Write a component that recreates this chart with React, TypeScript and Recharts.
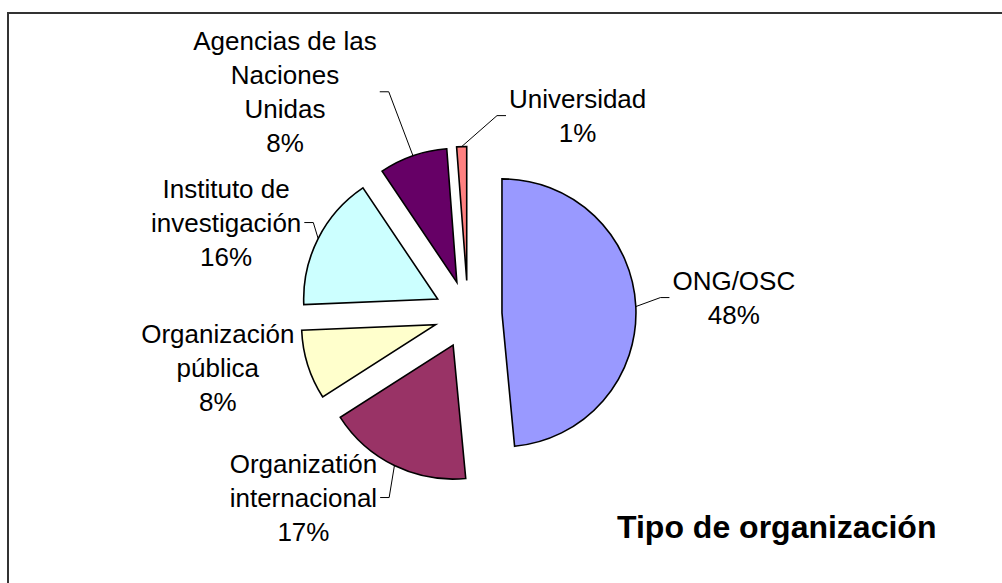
import { PieChart, Pie, Cell, Sector } from 'recharts'

const names = ['ONG/OSC', 'Organizatión internacional', 'Organización pública', 'Instituto de investigación', 'Agencias de las Naciones Unidas', 'Universidad']
const values = [48.4, 17.4, 8.4, 16.2, 8.2, 1.2]
const labelLines = [
  ['ONG/OSC'],
  ['Organizatión', 'internacional'],
  ['Organización', 'pública'],
  ['Instituto de', 'investigación'],
  ['Agencias de las', 'Naciones', 'Unidas'],
  ['Universidad'],
]
const colors = ['#9999FF', '#993366', '#FFFFCC', '#CCFFFF', '#660066', '#FF8080']

const data = names.map((name, i) => ({ name, value: values[i] }))

// label text offset (center x, first baseline) from the slice's arc midpoint
const labelShift = [[98, -17], [-91, 7], [-90, -22], [-92, -41], [-128, -106], [116, -39]]

const RAD = Math.PI / 180
const EXPLODE = 34
const FONT = '"Liberation Sans", Arial, sans-serif'
const FS = 26
const LH = 34

let ctx: CanvasRenderingContext2D | null = null
const measure = (s: string) => {
  if (!ctx) ctx = document.createElement('canvas').getContext('2d')
  if (!ctx) return s.length * FS * 0.5
  ctx.font = `${FS}px "Liberation Sans"`
  return ctx.measureText(s).width
}

const renderSlice = (p: any) => {
  const a = -p.midAngle * RAD
  return <Sector {...p} cx={p.cx + EXPLODE * Math.cos(a)} cy={p.cy + EXPLODE * Math.sin(a)} />
}

const renderLabel = (p: any) => {
  const { cx, cy, midAngle, outerRadius, index, percent } = p
  const a = -midAngle * RAD
  const ex = cx + EXPLODE * Math.cos(a)
  const ey = cy + EXPLODE * Math.sin(a)
  const mx = ex + outerRadius * Math.cos(a)
  const my = ey + outerRadius * Math.sin(a)
  const lines = [...labelLines[index], `${Math.round(percent * 100)}%`]
  const [dx, dy] = labelShift[index]
  const tx = mx + dx
  const ty = my + dy
  const w = Math.max(...lines.map(measure))
  const midY = ty + ((lines.length - 1) * LH) / 2 - 9
  const left = tx < mx
  const edge = left ? tx + w / 2 + 3 : tx - w / 2 - 3
  const elbow = left ? edge + 9 : edge - 9
  const dist = Math.hypot(mx - edge, my - midY)
  return (
    <g key={`lb-${index}`}>
      {dist > 20 && (
        <polyline points={`${mx},${my} ${elbow},${midY} ${edge},${midY}`} fill="none" stroke="#000" strokeWidth={1} />
      )}
      <text textAnchor="middle" fontSize={FS} fontFamily={FONT} fill="#000">
        {lines.map((l, i) => (
          <tspan key={i} x={tx} y={ty + i * LH}>{l}</tspan>
        ))}
      </text>
    </g>
  )
}

export default function App() {
  return (
    <div style={{ position: 'absolute', left: 0, top: 0, width: 1002, height: 583, background: '#fff', overflow: 'hidden' }}>
      <div style={{ position: 'absolute', left: 7, top: 12, width: 1010, height: 600, borderTop: '2px solid #333', borderLeft: '2px solid #333' }} />
      <div style={{ position: 'absolute', left: 0, top: 0 }}>
        <PieChart width={1002} height={583} margin={{ top: 0, right: 0, bottom: 0, left: 0 }}>
          <Pie
            data={data}
            dataKey="value"
            nameKey="name"
            cx={468}
            cy={314.5}
            outerRadius={134}
            startAngle={90}
            endAngle={-270}
            stroke="#000"
            strokeWidth={1.6}
            shape={renderSlice}
            label={renderLabel}
            labelLine={false}
            isAnimationActive={false}
          >
            {data.map((d, i) => <Cell key={d.name} fill={colors[i]} />)}
          </Pie>
        </PieChart>
      </div>
      <svg width={1002} height={583} style={{ position: 'absolute', left: 0, top: 0, pointerEvents: 'none' }}>
        <text x={617} y={538} fontSize={32} fontWeight="bold" fontFamily={FONT} fill="#000">Tipo de organización</text>
      </svg>
    </div>
  )
}
